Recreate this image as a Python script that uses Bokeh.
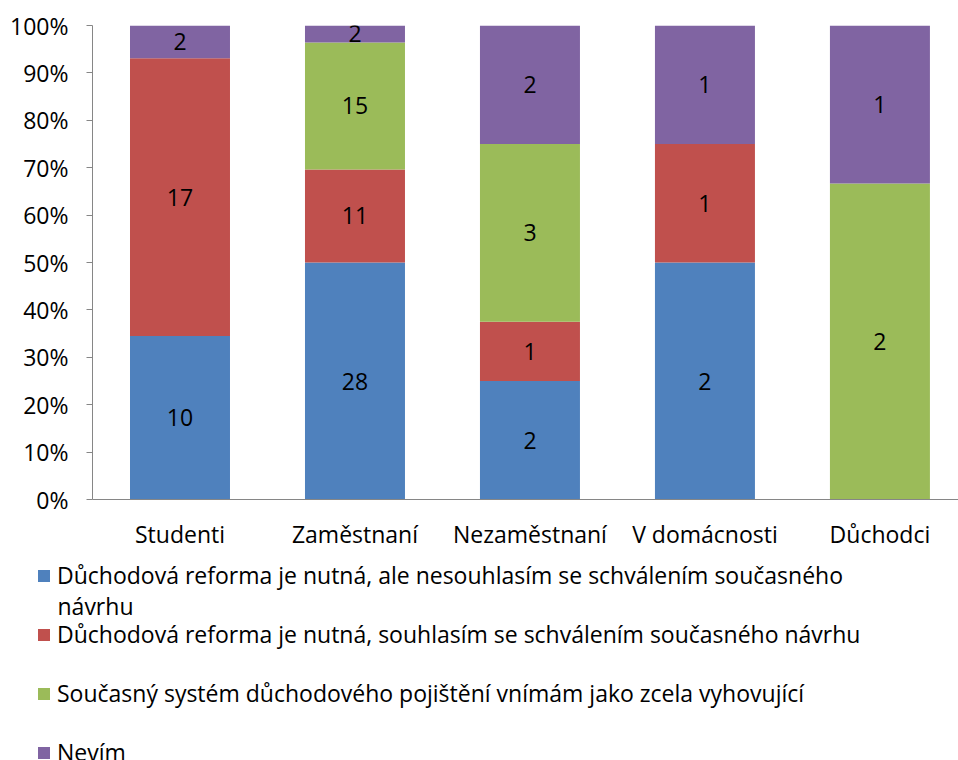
from bokeh.plotting import figure
from bokeh.models import Range1d, FixedTicker, NumeralTickFormatter, Legend, LegendItem, Label, ColumnDataSource
from bokeh.core.properties import value
from bokeh.embed import file_html
from bokeh.resources import INLINE
import numpy as np

categories = ["Studenti", "Zaměstnaní", "Nezaměstnaní", "V domácnosti", "Důchodci"]
series_names = [
    "Důchodová reforma je nutná, ale nesouhlasím se schválením současného",
    "Důchodová reforma je nutná, souhlasím se schválením současného návrhu",
    "Současný systém důchodového pojištění vnímám jako zcela vyhovující",
    "Nevím",
]
label_wrap = "návrhu"
nesouhlasim = [10, 28, 2, 2, 0]
souhlasim = [17, 11, 1, 1, 0]
vyhovujici = [0, 15, 3, 0, 2]
nevim = [2, 2, 2, 1, 1]
colors = ["#4F81BD", "#C0504D", "#9BBB59", "#8064A2"]
y_ticks = [0, 0.1, 0.2, 0.3, 0.4, 0.5, 0.6, 0.7, 0.8, 0.9, 1.0]

FONT = "Open Sans"
FS = "23px"

counts = np.array([nesouhlasim, souhlasim, vyhovujici, nevim], dtype=float)
totals = counts.sum(axis=0)
shares = counts / totals
keys = ["s0", "s1", "s2", "s3"]
xs = list(range(len(categories)))
data = {"x": xs}
for k, row in zip(keys, shares):
    data[k] = row
src = ColumnDataSource(data)

p = figure(width=958, height=552, output_backend="svg", toolbar_location=None,
           x_range=Range1d(-0.5, 4.449), y_range=Range1d(0, 1),
           min_border_left=92, min_border_right=0, min_border_top=25, min_border_bottom=51)
p.outline_line_color = None
p.xgrid.visible = False
p.ygrid.visible = False

p.vbar_stack(keys, x="x", width=100/175, color=colors, line_color=None, source=src)

# value labels
lx, ly, lt = [], [], []
cum = np.zeros(len(categories))
for i in range(4):
    for j in range(len(categories)):
        if counts[i, j] > 0:
            lx.append(xs[j])
            ly.append(cum[j] + shares[i, j] / 2)
            lt.append(str(int(counts[i, j])))
    cum = cum + shares[i]
p.text(x=lx, y=ly, text=lt, text_align="center", text_baseline="middle",
       text_font=value(FONT), text_font_size=FS, text_color="black")

p.yaxis.ticker = FixedTicker(ticks=y_ticks)
p.yaxis.formatter = NumeralTickFormatter(format="0%")
p.yaxis.axis_line_color = "#868686"
p.yaxis.major_tick_line_color = "#868686"
p.yaxis.major_tick_out = 6
p.yaxis.major_tick_in = 0
p.yaxis.minor_tick_line_color = None
p.yaxis.major_label_standoff = 18
p.yaxis.major_label_text_font = FONT
p.yaxis.major_label_text_font_size = FS
p.yaxis.major_label_text_color = "black"

p.xaxis.ticker = FixedTicker(ticks=xs)
p.xaxis.major_label_overrides = {i: c for i, c in zip(xs, categories)}
p.xaxis.axis_line_color = "#868686"
p.xaxis.major_tick_line_color = None
p.xaxis.minor_tick_line_color = None
p.xaxis.major_label_standoff = 12
p.xaxis.major_label_text_font = FONT
p.xaxis.major_label_text_font_size = FS
p.xaxis.major_label_text_color = "black"

# legend panel: a separate root below the chart; its bars lie outside its view
pl = figure(width=958, height=208, output_backend="svg", toolbar_location=None,
            x_range=Range1d(-100, -99), y_range=Range1d(0, 1),
            x_axis_location=None, y_axis_location=None,
            min_border_left=0, min_border_right=0, min_border_top=0, min_border_bottom=0)
pl.outline_line_color = None
pl.xgrid.visible = False
pl.ygrid.visible = False
lrend = pl.vbar_stack(keys, x="x", width=100/175, color=colors, line_color=None, source=src)

items = [LegendItem(label=n, renderers=[r]) for n, r in zip(series_names, lrend)]
legend = Legend(items=items, location=(36, -8), orientation="vertical",
                glyph_width=15, glyph_height=15, label_height=32, spacing=27,
                padding=0, margin=0, label_standoff=6,
                label_text_font=FONT, label_text_font_size=FS, label_text_color="black",
                border_line_color=None, background_fill_alpha=0)
pl.add_layout(legend, "center")
pl.add_layout(Label(x=57, y=155, x_units="screen", y_units="screen", text=label_wrap,
                    text_font=FONT, text_font_size=FS, text_color="black", text_baseline="middle"))

open("out.html", "w").write(file_html([p, pl], INLINE))
